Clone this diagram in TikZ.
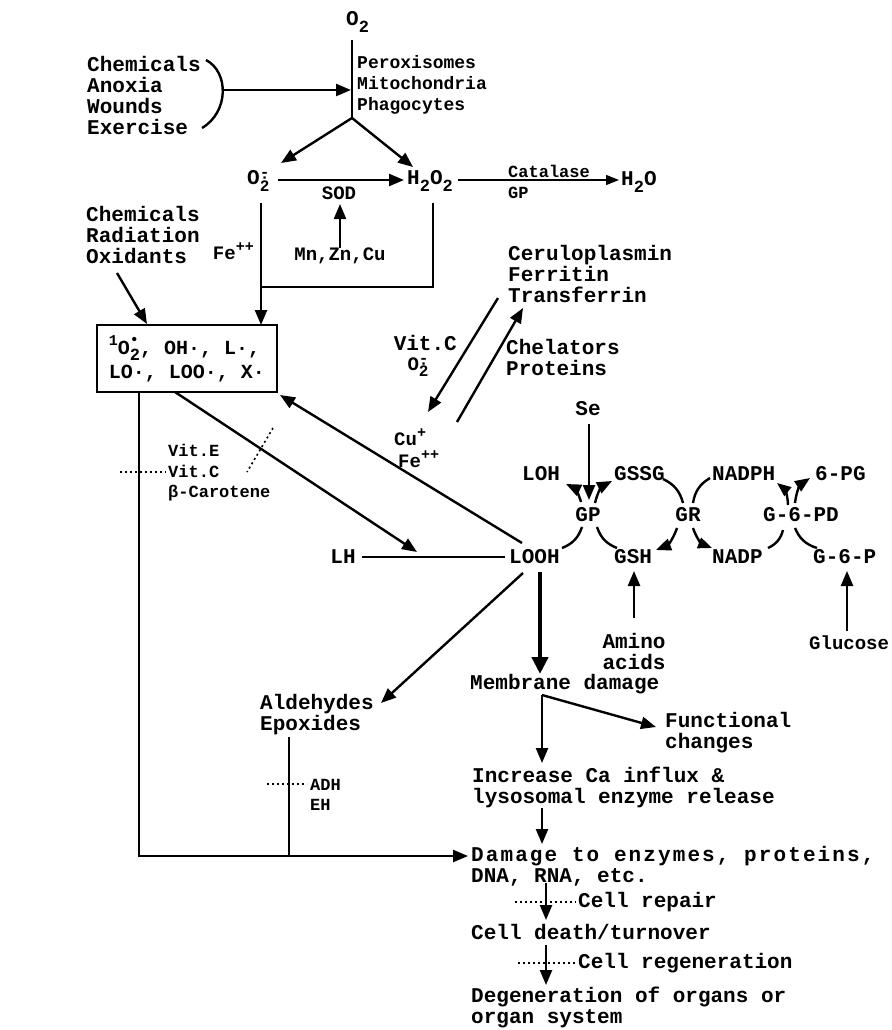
\documentclass[tikz,border=0pt]{standalone}
\usepackage{fontspec}
\setmainfont{Liberation Mono}
\usetikzlibrary{arrows.meta}
\newcommand\mysub[1]{\raisebox{-0.3em}{\fontsize{17}{17}\selectfont #1}}
\newcommand\mysup[1]{\raisebox{0.45em}{\fontsize{15}{15}\selectfont #1}}
\newcommand\radan{O\raisebox{-0.3em}{\fontsize{16}{16}\selectfont 2}\llap{\raisebox{0.36em}{\fontsize{16}{16}\selectfont -}}\llap{\raisebox{0.12em}{\fontsize{16}{16}\selectfont ·}}}
\begin{document}
\begin{tikzpicture}[x=1pt,y=-1pt,
  lbl/.style={inner sep=0pt, align=left, font=\fontsize{21}{21}\selectfont\bfseries},
  sml/.style={lbl, font=\fontsize{17}{20.5}\selectfont\bfseries},
  mid/.style={lbl, font=\fontsize{19}{21}\selectfont\bfseries},
  ln/.style={line width=2.4pt},
  arr/.style={ln, -{Triangle[length=15pt,width=12pt]}},
  rarr/.style={ln, {Triangle[length=14pt,width=11pt]}-},
  thinarr/.style={line width=1.3pt, -{Triangle[length=13pt,width=10pt]}},
  thk/.style={line width=4.5pt, -{Triangle[length=17pt,width=16pt]}},
  dotl/.style={line width=1.6pt, dash pattern=on 2pt off 3pt}
]
\useasboundingbox (0,0) rectangle (891,1030);
\fill[white] (0,0) rectangle (891,1030);

% ---------- top ----------
\node[lbl, anchor=west] (o2) at (346,22) {O\mysub{2}};
\node[mid, anchor=west, font=\fontsize{18}{21}\selectfont\bfseries] (pmp) at (357,85) {Peroxisomes\\Mitochondria\\Phagocytes};
\node[lbl, anchor=west] (chem) at (87,95) {Chemicals\\Anoxia\\Wounds\\Exercise};
\coordinate (vtop) at (352,40);
\coordinate (vbot) at (352,118);
\coordinate (vmid) at (351,90);
\coordinate (bm) at (222,90);
\draw[ln] (206,60) .. controls (229,72) and (229,112) .. (202,128);
\draw[ln] (vtop) -- (vbot);
\draw[arr] (bm) -- (vmid);

\node[lbl, anchor=west] (ox) at (247,181) {\radan};
\node[lbl, anchor=west] (h2o2) at (407,181) {H\mysub{2}O\mysub{2}};
\coordinate (oxtip) at (281,163);
\coordinate (h2tip) at (413,167);
\draw[arr] (vbot) -- (oxtip);
\draw[arr] (vbot) -- (h2tip);
\coordinate (oxr) at (278,180);
\coordinate (h2l) at (404,180);
\draw[arr] (oxr) -- (h2l);
\node[mid, anchor=center] (sod) at (339,193) {SOD};
\node[mid, anchor=center] (mn) at (340,256) {Mn,Zn,Cu};
\coordinate (sodb) at (340,204);
\draw[arr] (mn.north) -- (sodb);

\node[sml, anchor=west] (cat) at (508,171) {Catalase};
\node[sml, anchor=west] (gpa) at (508,193) {GP};
\node[lbl, anchor=west] (h2o) at (621,182) {H\mysub{2}O};
\coordinate (h2r) at (458,180);
\coordinate (h2ol) at (619,180);
\draw[thinarr] (h2r) -- (h2ol);

% ---------- O2- and H2O2 down to box ----------
\node[mid, anchor=east] (fe) at (254,251) {Fe\mysup{++}};
\coordinate (oxb) at (261,203);
\coordinate (boxt) at (261,325);
\draw[arr] (oxb) -- (boxt);
\coordinate (h2b) at (433,203);
\coordinate (h2c) at (433,287);
\coordinate (oxj) at (261,287);
\draw[ln] (h2b) -- (h2c) -- (oxj);

\node[draw, line width=2pt, minimum width=180pt, minimum height=67pt, inner sep=0pt, align=left,
      font=\fontsize{20}{24}\selectfont\bfseries] (box) at (187,358.5)
  {\mysup{1}O\rlap{\raisebox{0.5em}{\fontsize{15}{15}\selectfont\textbullet}}\mysub{2}, OH·, L·,\\LO·, LOO·, X·};

\node[lbl, anchor=west] (chem2) at (86,235) {Chemicals\\Radiation\\Oxidants};
\coordinate (ch2) at (117,273);
\coordinate (boxtl) at (147,324);
\draw[arr] (ch2) -- (boxtl);

% ---------- metals ----------
\node[lbl, anchor=west] (cer) at (508,274) {Ceruloplasmin\\Ferritin\\Transferrin};
\node[lbl, anchor=east] (vitc) at (457,343) {Vit.C};
\node[mid, anchor=center] (ox2) at (418,367) {\radan};
\node[lbl, anchor=west] (chel) at (506,357) {Chelators\\Proteins};
\node[mid, anchor=west] (cu) at (394,437) {Cu\mysup{+}};
\node[mid, anchor=west] (fe2) at (398,459) {Fe\mysup{++}};
\coordinate (m1a) at (498,298);
\coordinate (m1b) at (428,412);
\coordinate (m2a) at (457,422);
\coordinate (m2b) at (523,308);
\draw[arr] (m1a) -- (m1b);
\draw[arr] (m2a) -- (m2b);

% ---------- lipid peroxidation ----------
\node[sml, anchor=west] (vite) at (168,473) {Vit.E\\Vit.C\\β-Carotene};
\node[lbl, anchor=center] (lh) at (343,557) {LH};
\node[lbl, anchor=west] (looh) at (509,557) {LOOH};
\coordinate (loo1) at (522,543);
\coordinate (boxbr) at (280,395);
\draw[arr] (loo1) -- (boxbr);
\coordinate (boxb) at (175,392);
\coordinate (lhtip) at (417,552);
\draw[arr] (boxb) -- (lhtip);
\coordinate (lhr) at (362,557);
\coordinate (loohl) at (505,557);
\draw[ln] (lhr) -- (loohl);
\coordinate (d1a) at (273,428);
\coordinate (d1b) at (247,472);
\draw[dotl] (d1a) -- (d1b);
\coordinate (d2a) at (120,472);
\coordinate (d2b) at (166,472);
\draw[dotl] (d2a) -- (d2b);

% ---------- glutathione cycle ----------
\node[lbl, anchor=center] (se) at (588,409) {Se};
\node[lbl, anchor=west] (loh) at (522,474) {LOH};
\node[lbl, anchor=center] (gp) at (588,515) {GP};
\node[lbl, anchor=west] (gssg) at (614,474) {GSSG};
\node[lbl, anchor=center] (gr) at (688,515) {GR};
\node[lbl, anchor=west] (nadph) at (712,474) {NADPH};
\node[lbl, anchor=west] (pg) at (815,474) {6-PG};
\node[lbl, anchor=west] (g6pd) at (763,515) {G-6-PD};
\node[lbl, anchor=west] (gsh) at (614,557) {GSH};
\node[lbl, anchor=west] (nadp) at (712,557) {NADP};
\node[lbl, anchor=west] (g6p) at (813,557) {G-6-P};
\node[lbl, anchor=north] (amino) at (634,633) {Amino\\acids};
\node[mid, anchor=west] (glu) at (809,643) {Glucose};

\coordinate (set) at (589,424);
\coordinate (seb) at (589,500);
\draw[arr] (set) -- (seb);
\draw[ln] (562,548) to[bend right=25] (582,527);
\draw[arr] (581,502) to[bend right=25] (566,484);
\draw[arr] (595,503) to[bend left=25] (612,481);
\draw[ln] (663,479) to[bend left=25] (683,503);
\draw[arr] (677,528) to[bend left=25] (656,550);
\draw[ln] (617,548) to[bend left=25] (597,527);
\draw[ln] (693,503) to[bend left=25] (710,478);
\draw[rarr] (777,483) to[bend left=25] (788,505);
\draw[ln] (783,530) to[bend left=25] (768,548);
\draw[rarr] (712,548) to[bend left=25] (693,528);
\draw[arr] (795,503) to[bend left=25] (810,478);
\draw[ln] (817,548) to[bend left=25] (795,528);
\coordinate (gsht) at (634,571);
\coordinate (aminot) at (634,618);
\draw[arr] (aminot) -- (gsht);
\coordinate (glut) at (847,571);
\coordinate (glub) at (847,631);
\draw[arr] (glub) -- (glut);

% ---------- aldehydes & damage chain ----------
\node[lbl, anchor=west] (ald) at (260,715) {Aldehydes\\Epoxides};
\node[sml, anchor=west] (adh) at (310,795) {ADH\\EH};
\coordinate (loo2) at (523,573);
\coordinate (aldtip) at (381,703);
\draw[arr] (loo2) -- (aldtip);
\coordinate (epb) at (289,737);
\coordinate (epj) at (289,856);
\draw[ln] (epb) -- (epj);
\coordinate (d3a) at (267,784);
\coordinate (d3b) at (307,784);
\draw[dotl] (d3a) -- (d3b);
\coordinate (boxbl) at (139,392);
\coordinate (corner) at (139,856);
\coordinate (damtip) at (468,856);
\draw[arr] (boxbl) -- (corner) -- (damtip);

\node[lbl, anchor=west] (mem) at (470,684) {Membrane damage};
\node[lbl, anchor=west] (fun) at (665,733) {Functional\\changes};
\node[lbl, anchor=west] (inc) at (472,787) {Increase Ca influx \&\\lysosomal enzyme release};
\node[lbl, anchor=west] (dam) at (471,866) {{\addfontfeature{LetterSpace=10}Damage to enzymes, proteins,}\\DNA, RNA, etc.};
\node[lbl, anchor=west] (rep) at (578,902) {Cell repair};
\node[lbl, anchor=west] (death) at (471,932) {Cell death/turnover};
\node[lbl, anchor=west] (regen) at (578,963) {Cell regeneration};
\node[lbl, anchor=west] (deg) at (471,1007) {Degeneration of organs or\\organ system};

\coordinate (loo3) at (540,572);
\coordinate (memt) at (540,674);
\draw[thk] (loo3) -- (memt);
\coordinate (mj) at (542,695);
\coordinate (inct) at (542,763);
\coordinate (funtip) at (656,727);
\draw[arr] (mj) -- (inct);
\draw[arr] (mj) -- (funtip);
\coordinate (incb) at (542,808);
\coordinate (damt) at (542,844);
\draw[arr] (incb) -- (damt);
\coordinate (damb) at (546,883);
\coordinate (deatht) at (546,920);
\draw[arr] (damb) -- (deatht);
\draw[dotl] (515,902) -- (576,902);
\coordinate (deathb) at (546,945);
\coordinate (degt) at (546,985);
\draw[arr] (deathb) -- (degt);
\draw[dotl] (518,963) -- (576,963);
\end{tikzpicture}
\end{document}
